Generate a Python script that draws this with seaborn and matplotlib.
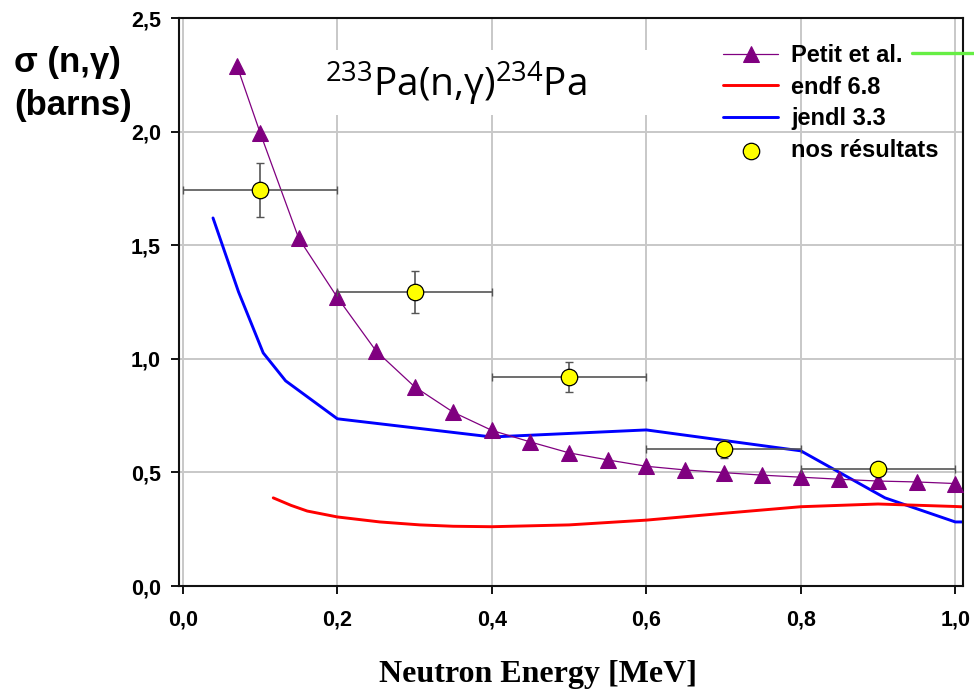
import numpy as np
import pandas as pd
import matplotlib
matplotlib.use("Agg")
import matplotlib.pyplot as plt
from matplotlib.patches import Rectangle
from matplotlib.lines import Line2D
from matplotlib.ticker import FuncFormatter
import seaborn as sns

# Petit et al. evaluation (MeV, barns)
petit_e = [0.07, 0.10, 0.15, 0.20, 0.25, 0.30, 0.35, 0.40, 0.45, 0.50,
           0.55, 0.60, 0.65, 0.70, 0.75, 0.80, 0.85, 0.90, 0.95, 1.00]
petit_xs = [2.29, 1.995, 1.53, 1.27, 1.035, 0.877, 0.765, 0.685, 0.634, 0.586,
            0.555, 0.527, 0.511, 0.499, 0.488, 0.479, 0.470, 0.462, 0.458, 0.451]

# ENDF/B-VI.8 evaluation
endf_e = [0.117, 0.14, 0.161, 0.20, 0.255, 0.307, 0.35, 0.40, 0.50, 0.60,
          0.70, 0.80, 0.90, 1.00, 1.02]
endf_xs = [0.388, 0.355, 0.330, 0.304, 0.282, 0.269, 0.263, 0.261, 0.269, 0.290,
           0.320, 0.349, 0.361, 0.350, 0.347]

# JENDL-3.3 evaluation
jendl_e = [0.039, 0.072, 0.104, 0.133, 0.20, 0.40, 0.60, 0.80, 0.909, 1.00, 1.02]
jendl_xs = [1.62, 1.295, 1.026, 0.903, 0.736, 0.656, 0.687, 0.595, 0.388, 0.282, 0.282]

# Measured points with energy bin half-widths and uncertainties
our_e = [0.1, 0.3, 0.5, 0.7, 0.9]
our_xs = [1.744, 1.295, 0.922, 0.602, 0.514]
our_de = [0.1, 0.1, 0.1, 0.1, 0.1]
our_dxs = [0.12, 0.093, 0.066, 0.04, 0.01]

x_ticks = [0.0, 0.2, 0.4, 0.6, 0.8, 1.0]
y_ticks = [0.0, 0.5, 1.0, 1.5, 2.0, 2.5]

sns.set_theme(style="white")
plt.rcParams["font.family"] = ["Liberation Sans", "DejaVu Sans"]
plt.rcParams["axes.axisbelow"] = True
for key in ("text.color", "axes.labelcolor", "xtick.color", "ytick.color"):
    plt.rcParams[key] = "black"
plt.rcParams["mathtext.fontset"] = "custom"
plt.rcParams["mathtext.rm"] = "Open Sans"
plt.rcParams["mathtext.it"] = "Open Sans"
plt.rcParams["mathtext.bf"] = "Open Sans"

fig = plt.figure(figsize=(9.74, 6.9), dpi=100)
ax = fig.add_axes([0.1838, 0.1507, 0.8049, 0.8232])

df_petit = pd.DataFrame({"E": petit_e, "xs": petit_xs})
df_endf = pd.DataFrame({"E": endf_e, "xs": endf_xs})
df_jendl = pd.DataFrame({"E": jendl_e, "xs": jendl_xs})
df_our = pd.DataFrame({"E": our_e, "xs": our_xs})

sns.lineplot(data=df_jendl, x="E", y="xs", ax=ax, color="#0000ff", lw=2.1,
             estimator=None, sort=True, label="jendl 3.3", zorder=2)
sns.lineplot(data=df_endf, x="E", y="xs", ax=ax, color="#ff0000", lw=2.1,
             estimator=None, sort=True, label="endf 6.8", zorder=2)
sns.lineplot(data=df_petit, x="E", y="xs", ax=ax, color="#800080", lw=0.9,
             marker="^", markersize=11, markeredgecolor="#800080",
             estimator=None, sort=True, label="Petit et al.", zorder=3)
ax.errorbar(our_e, our_xs, xerr=our_de, yerr=our_dxs, fmt="none",
            ecolor="#555555", elinewidth=1.2, capsize=3, capthick=1.0, zorder=4)
sns.scatterplot(data=df_our, x="E", y="xs", ax=ax, color="#ffff00", s=140,
                edgecolor="black", linewidth=0.9, label="nos résultats", zorder=5)

ax.set_xlim(-0.005, 1.01)
ax.set_ylim(0, 2.5)
ax.set_xticks(x_ticks)
ax.set_yticks(y_ticks)
comma = FuncFormatter(lambda v, p: f"{v:.1f}".replace(".", ","))
ax.xaxis.set_major_formatter(comma)
ax.yaxis.set_major_formatter(comma)
ax.set_xlabel("")
ax.set_ylabel("")

ax.grid(True, color="#c8c8c8", lw=1.4)
for s in ax.spines.values():
    s.set_color("#111111")
    s.set_linewidth(1.5)

ax.tick_params(axis="both", which="major", direction="out", length=6,
               width=1.3, color="black", labelcolor="black", labelsize=15.5)
ax.tick_params(axis="x", pad=11)
ax.tick_params(axis="y", pad=7)
ax.xaxis.set_ticks_position("bottom")
ax.yaxis.set_ticks_position("left")
for lab in ax.get_xticklabels() + ax.get_yticklabels():
    lab.set_fontweight("bold")

# White panel behind the reaction label
ax.add_patch(Rectangle((0.154, 0.829), 0.485, 0.115, transform=ax.transAxes,
                       facecolor="white", edgecolor="none", zorder=1.5))

fig.text(325 / 974, 1 - 97 / 690, r"$^{233}$Pa(n,γ)$^{234}$Pa",
         fontsize=28, family="Open Sans", ha="left", va="baseline")

# Legend in the order of the key
h, l = ax.get_legend_handles_labels()
order = ["Petit et al.", "endf 6.8", "jendl 3.3", "nos résultats"]
hd = dict(zip(l, h))
leg = ax.legend([hd[k] for k in order], order, loc="upper left",
                bbox_to_anchor=(723 / 974, 1 - 44 / 690),
                bbox_transform=fig.transFigure, frameon=False,
                prop={"size": 17, "weight": "bold"}, handlelength=2.35,
                handletextpad=0.55, labelspacing=0.37, borderpad=0,
                borderaxespad=0)

fig.add_artist(Line2D([912 / 974, 1.0], [1 - 53 / 690, 1 - 53 / 690],
                      transform=fig.transFigure, color="#66ee44", lw=2.4))

# Axis titles
fig.text(67 / 974, 1 - 72 / 690, "σ (n,γ)", fontsize=25, fontweight="bold",
         ha="center", va="baseline")
fig.text(73 / 974, 1 - 115 / 690, "(barns)", fontsize=25, fontweight="bold",
         ha="center", va="baseline")
fig.text(538 / 974, 1 - 682 / 690, "Neutron Energy [MeV]", fontsize=23,
         fontweight="bold", family="Liberation Serif", ha="center", va="baseline")

fig.savefig("out.png", dpi=100)
